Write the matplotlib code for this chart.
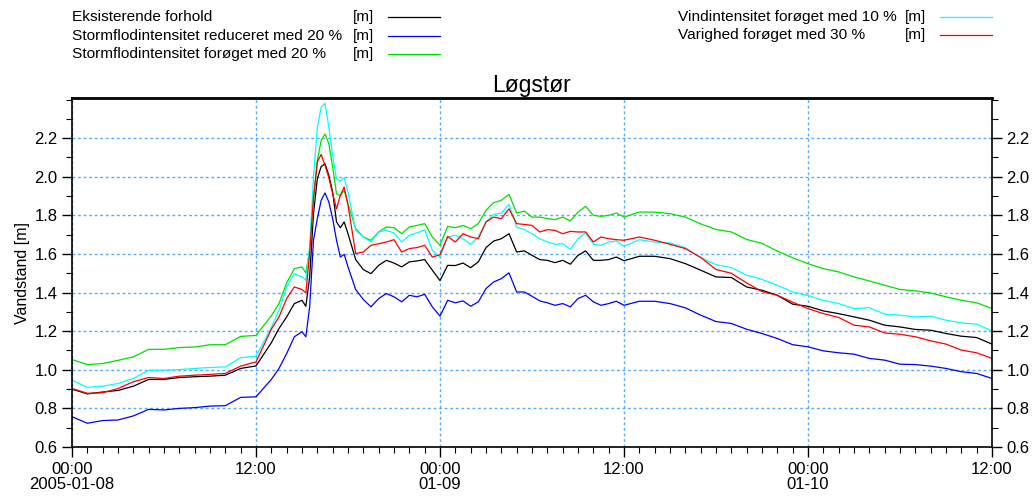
import numpy as np
import matplotlib
matplotlib.use("Agg")
import matplotlib.pyplot as plt
from matplotlib.lines import Line2D
from matplotlib.ticker import MultipleLocator, FormatStrFormatter

plt.rcParams["font.family"] = ["Liberation Sans", "DejaVu Sans"]

# hours since 2005-01-08 00:00
hours = np.concatenate([
    np.arange(0, 14, 1.0),
    np.arange(13.5, 15, 0.5),
    np.arange(15, 18.01, 0.25),
    np.arange(18.5, 36.01, 0.5),
    np.arange(37, 60.01, 1.0),
])

eksisterende = [
    0.90, 0.875, 0.885, 0.893, 0.915, 0.95, 0.95, 0.96, 0.964, 0.967, 0.972, 1.007, 1.02, 1.14,
    1.214, 1.274, 1.343,
    1.36, 1.329, 1.481, 1.809, 1.99, 2.053, 2.067, 2.007, 1.921, 1.766, 1.736, 1.766, 1.705,
    1.571, 1.519, 1.498, 1.541, 1.567, 1.553, 1.533, 1.559, 1.564, 1.571, 1.516, 1.462,
    1.541, 1.54, 1.553, 1.529, 1.559, 1.633, 1.667, 1.679, 1.705, 1.61, 1.616, 1.593,
    1.571, 1.567, 1.555, 1.567, 1.547, 1.593, 1.616, 1.567, 1.567, 1.571, 1.584, 1.565,
    1.588, 1.588, 1.576, 1.55,
    1.516, 1.481, 1.478, 1.429, 1.412, 1.386, 1.34, 1.329, 1.305, 1.291, 1.274, 1.257,
    1.231, 1.222, 1.209, 1.205, 1.188, 1.174, 1.167, 1.133,
]

storm_reduceret = [
    0.757, 0.723, 0.737, 0.74, 0.761, 0.795, 0.792, 0.80, 0.804, 0.812, 0.814, 0.857, 0.86, 0.95,
    1.007, 1.084, 1.171,
    1.197, 1.171, 1.326, 1.671, 1.783, 1.878, 1.916, 1.869, 1.783, 1.671, 1.584, 1.598, 1.533,
    1.416, 1.364, 1.326, 1.369, 1.395, 1.378, 1.352, 1.386, 1.378, 1.391, 1.326, 1.278,
    1.36, 1.347, 1.357, 1.329, 1.352, 1.421, 1.455, 1.472, 1.502, 1.403, 1.403, 1.381,
    1.357, 1.347, 1.334, 1.343, 1.326, 1.369, 1.386, 1.352, 1.334, 1.343, 1.355, 1.334,
    1.355, 1.355, 1.343, 1.321,
    1.283, 1.25, 1.24, 1.21, 1.188, 1.162, 1.13, 1.119, 1.098, 1.088, 1.081, 1.059,
    1.05, 1.029, 1.027, 1.019, 1.007, 0.99, 0.981, 0.955,
]

storm_foroeget = [
    1.053, 1.027, 1.032, 1.049, 1.067, 1.106, 1.106, 1.115, 1.118, 1.13, 1.13, 1.173, 1.178, 1.28,
    1.343, 1.45, 1.524,
    1.533, 1.502, 1.619, 1.878, 2.084, 2.188, 2.222, 2.171, 2.05, 1.912, 1.903, 1.929, 1.86,
    1.731, 1.688, 1.671, 1.714, 1.74, 1.736, 1.705, 1.74, 1.748, 1.757, 1.688, 1.645,
    1.743, 1.736, 1.748, 1.731, 1.757, 1.826, 1.866, 1.878, 1.909, 1.812, 1.822, 1.791,
    1.791, 1.783, 1.778, 1.791, 1.771, 1.817, 1.847, 1.8, 1.795, 1.8, 1.812, 1.791,
    1.817, 1.817, 1.809, 1.791,
    1.756, 1.727, 1.714, 1.675, 1.655, 1.615, 1.58, 1.55, 1.524, 1.507, 1.481, 1.46,
    1.438, 1.416, 1.409, 1.398, 1.378, 1.36, 1.347, 1.317,
]

vind_foroeget = [
    0.946, 0.909, 0.915, 0.929, 0.955, 0.998, 0.998, 1.001, 1.007, 1.012, 1.015, 1.063, 1.07, 1.22,
    1.309, 1.43, 1.498,
    1.481, 1.464, 1.636, 1.998, 2.257, 2.36, 2.381, 2.257, 2.11, 1.99, 1.978, 1.995, 1.921,
    1.722, 1.688, 1.662, 1.714, 1.722, 1.709, 1.662, 1.697, 1.709, 1.726, 1.619, 1.584,
    1.688, 1.697, 1.679, 1.65, 1.688, 1.766, 1.805, 1.812, 1.857, 1.74, 1.726, 1.705,
    1.679, 1.662, 1.65, 1.653, 1.624, 1.679, 1.709, 1.65, 1.645, 1.662, 1.667, 1.64,
    1.674, 1.662, 1.657, 1.633,
    1.58, 1.545, 1.529, 1.49, 1.468, 1.438, 1.403, 1.385, 1.36, 1.343, 1.317, 1.322,
    1.288, 1.283, 1.274, 1.278, 1.257, 1.243, 1.236, 1.202,
]

varighed_foroeget = [
    0.903, 0.878, 0.881, 0.903, 0.938, 0.96, 0.955, 0.967, 0.972, 0.976, 0.981, 1.019, 1.041, 1.21,
    1.274, 1.369, 1.429,
    1.416, 1.398, 1.602, 1.895, 2.076, 2.116, 2.059, 1.995, 1.912, 1.834, 1.903, 1.947, 1.853,
    1.602, 1.61, 1.645, 1.653, 1.662, 1.674, 1.61, 1.628, 1.633, 1.645, 1.584, 1.596,
    1.691, 1.662, 1.705, 1.688, 1.679, 1.766, 1.791, 1.783, 1.834, 1.757, 1.753, 1.748,
    1.714, 1.726, 1.722, 1.705, 1.717, 1.714, 1.714, 1.662, 1.688, 1.679, 1.674, 1.671,
    1.688, 1.671, 1.65, 1.628,
    1.582, 1.52, 1.5, 1.45, 1.405, 1.386, 1.35, 1.317, 1.291, 1.271, 1.231, 1.222,
    1.191, 1.184, 1.171, 1.15, 1.133, 1.102, 1.088, 1.059,
]

series = [
    ("Eksisterende forhold", eksisterende, "black"),
    ("Stormflodintensitet reduceret med 20 %", storm_reduceret, "#0000ff"),
    ("Stormflodintensitet forøget med 20 %", storm_foroeget, "#00e000"),
    ("Vindintensitet forøget med 10 %", vind_foroeget, "#00ffff"),
    ("Varighed forøget med 30 %", varighed_foroeget, "#ff0000"),
]

tick_hours = [0, 12, 24, 36, 48, 60]
tick_labels = ["00:00\n2005-01-08", "12:00", "00:00\n01-09", "12:00", "00:00\n01-10", "12:00"]
y_ticks = [0.6, 0.8, 1.0, 1.2, 1.4, 1.6, 1.8, 2.0, 2.2]

fig = plt.figure(figsize=(10.36, 5.01), dpi=100)
ax = fig.add_axes([72 / 1036, 1 - 447 / 501, 920 / 1036, 349 / 501])

for name, vals, col in series:
    ax.plot(hours, vals, color=col, lw=0.9)

ax.set_xlim(0, 60)
ax.set_ylim(0.6, 2.408)
ax.set_xticks(tick_hours)
ax.set_xticklabels(tick_labels, linespacing=1.05)
ax.set_yticks(y_ticks)
ax.xaxis.set_minor_locator(MultipleLocator(1))
ax.yaxis.set_minor_locator(MultipleLocator(0.1))
ax.yaxis.set_major_formatter(FormatStrFormatter("%.1f"))
ax.tick_params(which="both", direction="out", labelsize=12, right=True, labelright=True)
ax.tick_params(which="major", length=7, width=1)
ax.tick_params(which="minor", length=4, width=0.8)
ax.grid(True, which="major", color="#55aaff", linestyle=(0, (2, 2)), lw=1)
for s in ax.spines.values():
    s.set_linewidth(1.2)
ax.spines["top"].set_linewidth(2)

ax.set_ylabel("Vandstand [m]", fontsize=11.5, labelpad=3)
ax.set_title("Løgstør", fontsize=16.5, pad=4)

# legend drawn as two blocks with an aligned unit column
left_rows = [17, 36, 54]
for (name, vals, col), y in zip(series[:3], left_rows):
    fig.text(72 / 1036, 1 - y / 501, name, fontsize=11.1, va="center", ha="left")
    fig.text(353 / 1036, 1 - y / 501, "[m]", fontsize=11.1, va="center", ha="left")
    fig.add_artist(Line2D([388 / 1036, 440 / 1036], [1 - y / 501, 1 - y / 501], color=col, lw=0.9))

right_rows = [17, 35]
for (name, vals, col), y in zip(series[3:], right_rows):
    fig.text(678 / 1036, 1 - y / 501, name, fontsize=11.1, va="center", ha="left")
    fig.text(905 / 1036, 1 - y / 501, "[m]", fontsize=11.1, va="center", ha="left")
    fig.add_artist(Line2D([940 / 1036, 992 / 1036], [1 - y / 501, 1 - y / 501], color=col, lw=0.9))

fig.savefig("out.png", dpi=100)
